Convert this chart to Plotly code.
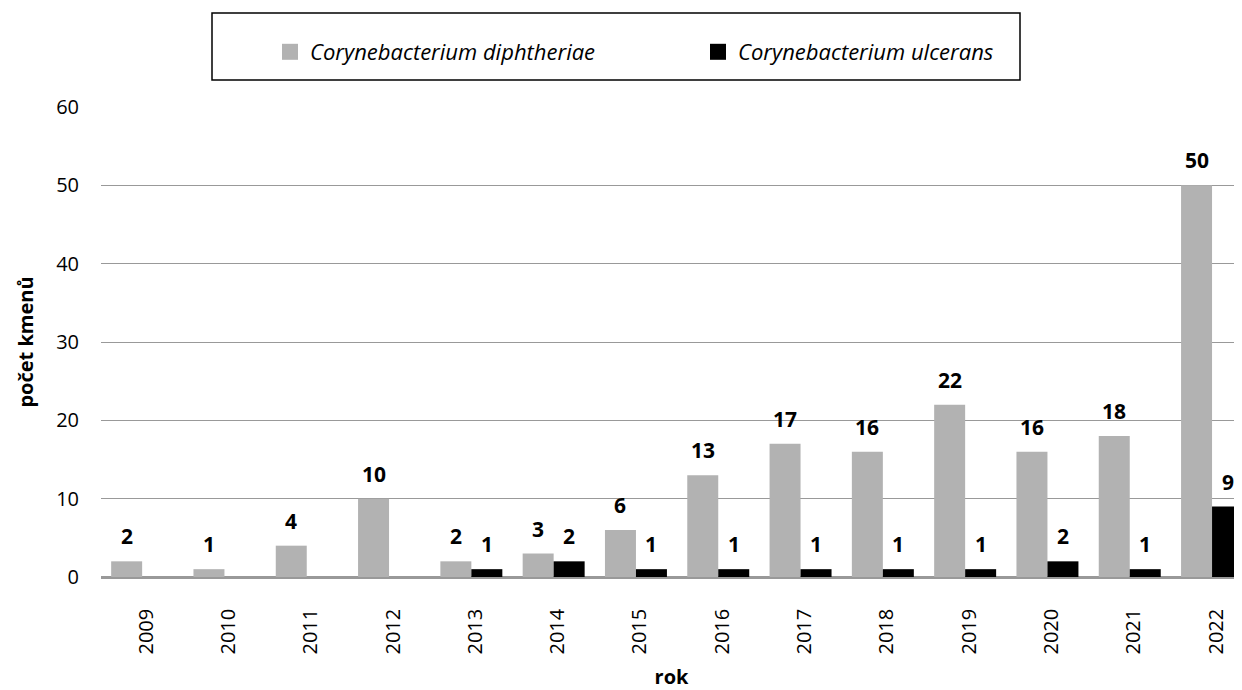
import plotly.graph_objects as go

years = ["2009", "2010", "2011", "2012", "2013", "2014", "2015", "2016",
         "2017", "2018", "2019", "2020", "2021", "2022"]
diphtheriae = [2, 1, 4, 10, 2, 3, 6, 13, 17, 16, 22, 16, 18, 50]
ulcerans = [0, 0, 0, 0, 1, 2, 1, 1, 1, 1, 1, 2, 1, 9]
series_names = ["Corynebacterium diphtheriae", "Corynebacterium ulcerans"]
y_ticks = [0, 10, 20, 30, 40, 50, 60]

FONT = "Open Sans"
GRAY = "#b2b2b2"
BLACK = "#000000"
OFF = 8  # default page body margin
W, H = 1242 - OFF, 690 - OFF
L, R, T = 101 - OFF, 0, 107 - OFF
B = H - (577 - OFF)
BARGAP = 0.247
CAT_W = 82.3
plot_w = W - L - R
plot_h = H - T - B
x_max = -0.5 + plot_w / CAT_W
bar_w = CAT_W * (1 - BARGAP) / 2
colors = [GRAY, BLACK]

fig = go.Figure()
for vals, name, col in zip((diphtheriae, ulcerans), series_names, colors):
    fig.add_trace(go.Bar(x=years, y=vals, name=name, showlegend=False,
                         marker=dict(color=col, line=dict(width=0))))
# legend entries with larger square swatches
for name, col in zip(series_names, colors):
    fig.add_trace(go.Scatter(x=[None], y=[None], mode="markers", name="<i>" + name + "</i>",
                             marker=dict(symbol="square", size=16, color=col)))

for vals, shift in ((diphtheriae, -bar_w / 2), (ulcerans, bar_w / 2)):
    for i, v in enumerate(vals):
        if v:
            fig.add_annotation(x=i, y=v, text="<b>%d</b>" % v, showarrow=False,
                               xshift=shift, yanchor="bottom", yshift=9,
                               font=dict(family=FONT, size=21, color="black"))

# legend frame
fig.add_shape(type="rect", xref="paper", yref="paper",
              x0=(212 - OFF - L) / plot_w, x1=(1020 - OFF - L) / plot_w,
              y0=1 + (T - (80 - OFF)) / plot_h, y1=1 + (T - (13 - OFF)) / plot_h,
              line=dict(color="black", width=1.5), fillcolor="white", layer="below")

fig.update_layout(
    width=W, height=H,
    margin=dict(l=L, r=R, t=T, b=B, pad=0, autoexpand=False),
    paper_bgcolor="white", plot_bgcolor="white",
    barmode="group", bargap=BARGAP, bargroupgap=0,
    font=dict(family=FONT, size=18, color="black"),
    showlegend=True,
    legend=dict(orientation="h", x=262 / W, xref="container", xanchor="left",
                y=1 - 44 / H, yref="container", yanchor="middle",
                bgcolor="rgba(0,0,0,0)", borderwidth=0,
                font=dict(family=FONT, size=22), entrywidth=383, entrywidthmode="pixels"),
    xaxis=dict(type="category", range=[-0.5, x_max], tickangle=-90,
               showgrid=False, ticks="",
               ticklabelstandoff=22, ticklabelshift=4, tickfont=dict(size=20),
               showline=True, linecolor="#999999", linewidth=1.5,
               title=dict(text="<b>rok</b>", font=dict(size=20), standoff=18)),
    yaxis=dict(range=[0, 60], tickvals=y_ticks, showgrid=True, gridcolor="#999999",
               gridwidth=1.2, zeroline=True, zerolinecolor="#999999", zerolinewidth=1.5,
               ticks="", ticklabelstandoff=21, tickfont=dict(size=20),
               title=dict(text="<b>počet kmenů</b>", font=dict(size=20), standoff=17)),
)

fig.write_html("out.html")
